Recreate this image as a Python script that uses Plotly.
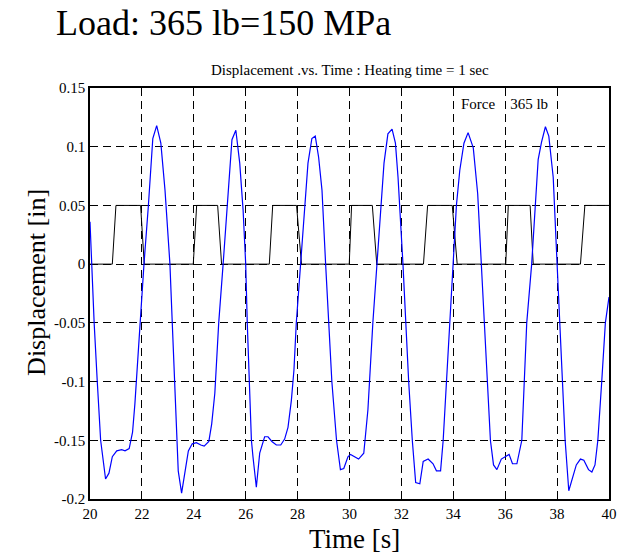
import plotly.graph_objects as go

# Displacement (blue) samples
disp_t = [20.00, 20.06, 20.16, 20.28, 20.41, 20.60, 20.73, 20.86, 21.03, 21.22, 21.35, 21.51, 21.64, 21.73,
          21.86, 21.93, 22.08, 22.25, 22.42, 22.57, 22.73, 22.89, 23.08, 23.17, 23.27, 23.35, 23.40, 23.53,
          23.79, 23.94, 24.10, 24.27, 24.40, 24.58, 24.69, 24.81, 24.96, 25.13, 25.29, 25.38, 25.47, 25.62,
          25.77, 25.90, 26.00, 26.06, 26.13, 26.22, 26.28, 26.41, 26.54, 26.73, 26.86, 27.01, 27.18, 27.35,
          27.50, 27.63, 27.76, 27.86, 27.95, 28.12, 28.27, 28.40, 28.55, 28.68, 28.81, 28.94, 29.08, 29.19,
          29.32, 29.50, 29.65, 29.78, 29.94, 30.04, 30.19, 30.35, 30.55, 30.71, 30.90, 31.06, 31.20, 31.33,
          31.48, 31.64, 31.77, 31.87, 32.06, 32.16, 32.28, 32.42, 32.55, 32.71, 32.84, 33.03, 33.22, 33.35,
          33.51, 33.61, 33.74, 33.87, 34.00, 34.12, 34.25, 34.41, 34.57, 34.77, 34.94, 35.08, 35.17, 35.30,
          35.43, 35.55, 35.68, 35.85, 36.00, 36.15, 36.28, 36.45, 36.64, 36.74, 36.83, 37.02, 37.17, 37.27,
          37.40, 37.55, 37.68, 37.85, 38.00, 38.10, 38.20, 38.31, 38.45, 38.57, 38.74, 38.90, 39.03, 39.21,
          39.34, 39.46, 39.57, 39.72, 39.86, 40.00]
disp_v = [0.036, 0.0, -0.05, -0.10, -0.15, -0.183, -0.178, -0.164, -0.159, -0.158, -0.159, -0.157, -0.143, -0.119,
          -0.073, -0.05, 0.0, 0.05, 0.107, 0.118, 0.103, 0.063, 0.0, -0.05, -0.10, -0.15, -0.176, -0.195,
          -0.159, -0.153, -0.152, -0.154, -0.155, -0.151, -0.136, -0.110, -0.05, 0.0, 0.05, 0.08, 0.106, 0.114,
          0.086, 0.046, 0.0, -0.05, -0.10, -0.15, -0.164, -0.190, -0.161, -0.147, -0.147, -0.151, -0.154, -0.154,
          -0.149, -0.139, -0.116, -0.09, -0.05, 0.0, 0.05, 0.086, 0.107, 0.109, 0.091, 0.063, 0.0, -0.05,
          -0.10, -0.15, -0.175, -0.174, -0.164, -0.162, -0.164, -0.166, -0.161, -0.124, -0.05, 0.0, 0.05, 0.086,
          0.111, 0.115, 0.103, 0.074, 0.0, -0.05, -0.10, -0.15, -0.186, -0.187, -0.168, -0.166, -0.170, -0.176,
          -0.176, -0.150, -0.10, -0.05, 0.0, 0.05, 0.080, 0.103, 0.112, 0.099, 0.06, 0.0, -0.05, -0.10,
          -0.15, -0.171, -0.175, -0.166, -0.164, -0.162, -0.170, -0.170, -0.150, -0.10, -0.05, 0.0, 0.05, 0.089,
          0.104, 0.117, 0.109, 0.074, 0.0, -0.05, -0.10, -0.15, -0.193, -0.184, -0.171, -0.166, -0.167, -0.175,
          -0.177, -0.171, -0.150, -0.10, -0.05, -0.028]

# Force signal (black), scaled square wave
force_t = [20.0, 20.86, 21.0, 21.95, 22.09, 23.98, 24.11, 24.92, 25.07, 26.91, 27.04, 27.96, 28.15, 29.99,
           30.08, 30.88, 31.05, 32.85, 33.01, 33.96, 34.15, 36.02, 36.12, 36.96, 37.08, 38.9, 39.07, 40.0]
force_v = [0, 0, 0.05, 0.05, 0, 0, 0.05, 0.05, 0, 0, 0.05, 0.05, 0, 0,
           0.05, 0.05, 0, 0, 0.05, 0.05, 0, 0, 0.05, 0.05, 0, 0, 0.05, 0.05]

x_ticks = [20, 22, 24, 26, 28, 30, 32, 34, 36, 38, 40]
y_ticks = [0.15, 0.1, 0.05, 0, -0.05, -0.1, -0.15, -0.2]
y_tick_text = ["0.15", "0.1", "0.05", "0", "-0.05", "-0.1", "-0.15", "-0.2"]

FONT = "Liberation Serif, Times New Roman, serif"

fig = go.Figure()
fig.add_trace(go.Scatter(x=force_t, y=force_v, mode="lines",
                         line=dict(color="black", width=1), showlegend=False))
fig.add_trace(go.Scatter(x=disp_t, y=disp_v, mode="lines",
                         line=dict(color="#0000ff", width=1.2), showlegend=False))

axis_common = dict(showline=True, mirror=True, linecolor="black", linewidth=1.5,
                   showgrid=True, gridcolor="black", gridwidth=1, griddash="8px,5px",
                   zeroline=False, ticks="", automargin=False,
                   tickfont=dict(family=FONT, size=15, color="black"))

fig.update_xaxes(range=[20, 40], tickvals=x_ticks, **axis_common)
fig.update_yaxes(range=[-0.2, 0.15], tickvals=y_ticks, ticktext=y_tick_text, **axis_common)

fig.update_layout(
    width=620, height=555,
    margin=dict(l=90, r=11, t=88, b=56),
    paper_bgcolor="white", plot_bgcolor="white",
    font=dict(family=FONT, color="black"),
    annotations=[
        dict(text="Load: 365 lb=150 MPa", xref="paper", yref="paper", x=0.258, y=1.158,
             xanchor="center", yanchor="middle", showarrow=False, font=dict(size=36, family=FONT)),
        dict(text="Displacement .vs. Time : Heating time = 1 sec", xref="paper", yref="paper",
             x=0.5, y=1.044, xanchor="center", yanchor="middle", showarrow=False,
             font=dict(size=15, family=FONT)),
        dict(text="Time [s]", xref="paper", yref="paper", x=0.51, y=-0.097,
             xanchor="center", yanchor="middle", showarrow=False, font=dict(size=27, family=FONT)),
        dict(text="Displacement [in]", xref="paper", yref="paper", x=-0.102, y=0.526,
             xanchor="center", yanchor="middle", textangle=-90, showarrow=False,
             font=dict(size=26, family=FONT)),
        dict(text="Force    365 lb", xref="x", yref="y", x=34.22, y=0.1364,
             xanchor="left", yanchor="middle", showarrow=False, font=dict(size=15, family=FONT)),
    ],
)

fig.write_html("out.html", config={"displayModeBar": False},
               post_script="document.body.style.margin='0';document.body.style.overflow='hidden';")
